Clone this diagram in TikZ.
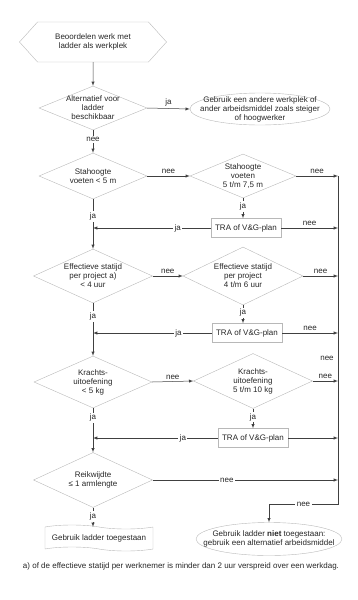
\documentclass[tikz,border=0pt]{standalone}
\usepackage{fontspec}
\setmainfont{Liberation Sans}
\usetikzlibrary{shapes.geometric, shapes.symbols}
\definecolor{rand}{HTML}{B8B8B8}
\definecolor{lijn}{HTML}{404040}

\begin{document}
\begin{tikzpicture}[>=latex, x=1pt, y=-1pt, font=\fontsize{8}{9}\selectfont,
    vorm/.style={draw=rand, align=center, text=black!85},
    keuze/.style={vorm, diamond, aspect=2.2, inner sep=-6pt},
    start/.style={vorm, signal, signal to=west and east, signal pointer angle=96,
        minimum width=147pt, minimum height=40pt, inner sep=2pt},
    eind/.style={vorm, ellipse, inner xsep=-14pt, inner ysep=-4pt},
    tra/.style={vorm, rectangle, minimum width=70pt, minimum height=19pt, inner sep=2pt},
    ok/.style={vorm, tape, tape bend top=out and in, tape bend bottom=out and in,
        tape bend height=4pt, minimum width=108pt, minimum height=26pt},
    pijl/.style={->, draw=lijn, line width=0.5pt},
    lbl/.style={fill=white, inner sep=1.5pt, text=black!85},
    boven/.style={above, inner sep=2pt, text=black!85}]

    % Definice poloměrů -> vaste posities
    \def\xL{93}     % linker kolom
    \useasboundingbox (0,0) rectangle (358,600);

    % 1. Begin en eerste keuze
    \node[start] (begin) at (\xL,42) {Beoordelen werk met\\ladder als werkplek};
    \node[keuze, minimum width=108pt, minimum height=44pt] (alt) at (\xL,108) {Alternatief voor\\ladder\\beschikbaar};
    \node[eind, minimum width=140pt, minimum height=32pt] (ander) at (260,109) {Gebruik een andere werkplek of\\ander arbeidsmiddel zoals steiger\\of hoogwerker};

    % 2. Keuzes links en rechts
    \node[keuze, minimum width=108pt, minimum height=46pt] (sh1) at (\xL,176) {Stahoogte\\voeten < 5 m};
    \node[keuze, minimum width=106pt, minimum height=44pt] (sh2) at (243,176) {Stahoogte\\voeten\\5 t/m 7,5 m};
    \node[keuze, minimum width=119pt, minimum height=54pt] (st1) at (\xL,276) {Effectieve statijd\\per project a)\\< 4 uur};
    \node[keuze, minimum width=120pt, minimum height=58pt] (st2) at (243,276) {Effectieve statijd\\per project\\4 t/m 6 uur};
    \node[keuze, minimum width=118pt, minimum height=52pt] (kr1) at (\xL,382) {Krachts-\\uitoefening\\< 5 kg};
    \node[keuze, minimum width=119pt, minimum height=55pt] (kr2) at (253,381) {Krachts-\\uitoefening\\5 t/m 10 kg};
    \node[keuze, minimum width=119pt, minimum height=55pt] (rw) at (\xL,480) {Reikwijdte\\≤ 1 armlengte};

    % 3. TRA-blokken
    \foreach \naam/\x/\y in {tra1/246/228, tra2/247/333, tra3/253/438}
        \node[tra] (\naam) at (\x,\y) {TRA of V\&G-plan};

    % 4. Uitkomsten en voetnoot
    \node[ok] (ok) at (99,538) {Gebruik ladder toegestaan};
    \node[eind, minimum width=142pt, minimum height=33pt] (niet) at (269,539) {Gebruik ladder \textbf{niet} toegestaan:\\gebruik een alternatief arbeidsmiddel};
    \node[text=black!85] (noot) at (181,566) {a) of de effectieve statijd per werknemer is minder dan 2 uur verspreid over een werkdag.};

    % Verzamellijn rechts
    \coordinate (bus) at (338,176);
    \coordinate (bocht) at (338,504);

    % 5. Pijlen linker kolom
    \draw[pijl] (begin) -- (alt);
    \draw[pijl] (alt.east) -- node[boven] {ja} (ander.west);
    \foreach \a/\b/\lab/\p in {alt/sh1/nee/0.42, sh1/st1/ja/0.35, st1/kr1/ja/0.25, kr1/rw/ja/0.22}
        \draw[pijl] (\a.south) -- node[lbl, pos=\p] {\lab} (\b.north);
    \draw[pijl] (rw.south) -- node[lbl, pos=0.45] {ja} (rw.south |- ok.north);

    % 6. Pijlen naar rechts
    \foreach \a/\b in {sh1/sh2, st1/st2, kr1/kr2} {
        \draw[pijl] (\a.east) -- node[boven] {nee} (\b.west);
        \draw[pijl] (\b.east) -- node[boven] {nee} (\b.east -| bus);
    }

    % 7. TRA in en uit
    \foreach \bov/\blok/\links/\lab in {sh2/tra1/sh1/nee, st2/tra2/st1/nee, kr2/tra3/kr1/{}} {
        \draw[pijl] (\bov.south) -- node[lbl, pos=0.42] {ja} (\bov.south |- \blok.north);
        \draw[pijl] (\blok.west) -- node[lbl, pos=0.28] {ja} (\blok.west -| \links.south);
        \draw[pijl] (\blok.east) -- node[boven] {\lab} (\blok.east -| bus);
    }

    % 8. Reikwijdte en verzamellijn
    \draw[pijl] (rw.east) -- node[lbl, pos=0.4] {nee} (rw.east -| bus);
    \draw[pijl] (bus) -- (bocht) -- node[lbl] {nee} (bocht -| niet.north) -- (niet.north);
    \node[text=black!85] (neebus) at (327,358) {nee};

\end{tikzpicture}
\end{document}
